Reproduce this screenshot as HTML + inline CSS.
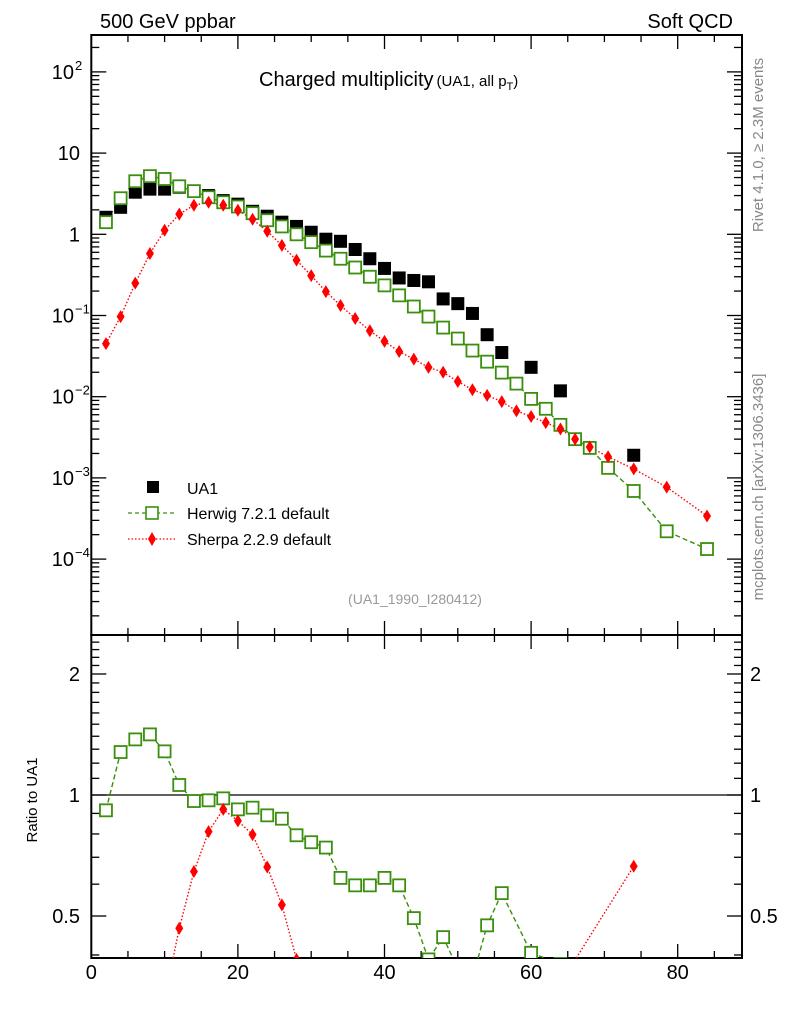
<!DOCTYPE html>
<html><head><meta charset="utf-8">
<style>
html,body{margin:0;padding:0;background:#fff;overflow:hidden;width:786px;height:1024px;}
svg{display:block;font-family:"Liberation Sans",sans-serif;overflow:hidden;}
</style></head>
<body>
<svg id="chart" width="786" height="1024" viewBox="0 0 786 1024" xmlns="http://www.w3.org/2000/svg">
<text x="100" y="28" font-size="20">500 GeV ppbar</text>
<text x="733" y="28" font-size="20" text-anchor="end">Soft QCD</text>
<text x="259" y="86" font-size="20">Charged multiplicity<tspan font-size="15" dx="3">(UA1, all p</tspan><tspan font-size="11" dy="4">T</tspan><tspan font-size="15" dy="-4">)</tspan></text>
<text x="415" y="604" font-size="14" fill="#999" text-anchor="middle">(UA1_1990_I280412)</text>
<text transform="translate(763,145) rotate(-90)" font-size="15" fill="#888" text-anchor="middle">Rivet 4.1.0, ≥ 2.3M events</text>
<text transform="translate(763,487) rotate(-90)" font-size="15" fill="#888" text-anchor="middle">mcplots.cern.ch [arXiv:1306.3436]</text>
<text transform="translate(37,800) rotate(-90)" font-size="15" text-anchor="middle">Ratio to UA1</text>
<g id="legend">
  <g>
    <rect x="147" y="481" width="12" height="12" fill="#000"/>
    <text x="187" y="494" font-size="16">UA1</text>
  </g>
  <g>
    <line x1="128" y1="513" x2="175" y2="513" stroke="#3a8f0e" stroke-width="1.3" stroke-dasharray="4,3"/>
    <rect x="146" y="507" width="12" height="12" fill="#fff" stroke="#3a8f0e" stroke-width="1.6"/>
    <text x="187" y="519" font-size="16">Herwig 7.2.1 default</text>
  </g>
  <g>
    <line x1="128" y1="539" x2="175" y2="539" stroke="#f00" stroke-width="1.3" stroke-dasharray="1.5,2"/>
    <path d="M152,532 L156,539 L152,546 L148,539 Z" fill="#f00"/>
    <text x="187" y="545" font-size="16">Sherpa 2.2.9 default</text>
  </g>
</g>
<g id="axes"></g>
<g id="marks"></g>
</svg>
<script>
const ua1X = [2,4,6,8,10,12,14,16,18,20,22,24,26,28,30,32,34,36,38,40,42,44,46,48,50,52,54,56,60,64,74];
const ua1Y = [1.62,2.15,3.3,3.6,3.6,3.8,3.4,3.0,2.6,2.35,1.92,1.67,1.41,1.25,1.06,0.87,0.82,0.65,0.50,0.38,0.29,0.27,0.26,0.16,0.14,0.106,0.058,0.035,0.023,0.0118,0.0019];
const mcX = [2,4,6,8,10,12,14,16,18,20,22,24,26,28,30,32,34,36,38,40,42,44,46,48,50,52,54,56,58,60,62,64,66,68,70.5,74,78.5,84];
const herwigY = [1.41,2.78,4.5,5.2,4.8,3.9,3.4,2.86,2.48,2.2,1.82,1.49,1.25,1.0,0.80,0.63,0.50,0.39,0.30,0.235,0.177,0.129,0.097,0.071,0.052,0.037,0.027,0.0198,0.0145,0.0094,0.0071,0.0045,0.0030,0.00234,0.00133,0.00069,0.00022,0.000133];
const sherpaY = [0.045,0.097,0.25,0.58,1.12,1.77,2.28,2.48,2.28,1.98,1.53,1.09,0.73,0.48,0.31,0.197,0.133,0.092,0.065,0.048,0.036,0.029,0.023,0.020,0.0154,0.0122,0.0104,0.0087,0.0067,0.0057,0.0048,0.0040,0.0030,0.0024,0.00182,0.00129,0.00077,0.00034];
const herwigRatio = [0.916,1.279,1.375,1.415,1.284,1.059,0.966,0.970,0.981,0.921,0.930,0.890,0.873,0.794,0.763,0.740,0.622,0.596,0.596,0.622,0.596,0.494,0.39,0.443,0.37,0.35,0.474,0.570,0.405,0.38,0.36];
const sherpaRatio = [0.028,0.045,0.076,0.16,0.31,0.466,0.645,0.811,0.921,0.862,0.797,0.662,0.533,0.39,0.29,0.23,0.16,0.14,0.13,0.126,0.124,0.11,0.09,0.125,0.11,0.115,0.18,0.25,0.25,0.34,0.665];
const xTicks = [0,20,40,60,80];
const mainTickLabels = [["10","2"],["10",""],["1",""],["10","−1"],["10","−2"],["10","−3"],["10","−4"]];
const mainTickExps = [2,1,0,-1,-2,-3,-4];
const ratioTickLabels = ["2","1","0.5"];
const ratioTickVals = [2,1,0.5];

const NS="http://www.w3.org/2000/svg";
const L=91.3,R=742,T=35,MID=635,B=958;
const sx = x => L + x*7.33;
const sy = v => 234.3 - 81.2*Math.log10(v);
const sr = v => 795 - 402*Math.log10(v);
const axes=document.getElementById('axes'), marks=document.getElementById('marks');
function mk(tag,attrs,parent){const e=document.createElementNS(NS,tag);for(const k in attrs)e.setAttribute(k,attrs[k]);parent.appendChild(e);return e;}

const defs=mk('defs',{},axes);
const c1=mk('clipPath',{id:'cmain'},defs);mk('rect',{x:L,y:T,width:R-L,height:MID-T},c1);
const c2=mk('clipPath',{id:'cratio'},defs);mk('rect',{x:L,y:MID,width:R-L,height:B-MID},c2);

const f1=mk('rect',{x:L,y:T,width:R-L,height:MID-T,fill:'none',stroke:'#000','stroke-width':2},axes);


const f2=mk('rect',{x:L,y:MID,width:R-L,height:B-MID,fill:'none',stroke:'#000','stroke-width':2},axes);



for(let x=0;x<=88;x+=5){
  const len = x%20===0?14:7;
  [[T,1],[MID,1],[MID,-1],[B,-1]].forEach(([y0,d])=>{
    mk('line',{x1:sx(x),x2:sx(x),y1:y0,y2:y0+d*len,stroke:'#000','stroke-width':1.3},axes);
  });
}
xTicks.forEach(x=>{
  const t=mk('text',{x:sx(x),y:979,'font-size':20,'text-anchor':'middle'},axes);
  t.textContent=x;
  
  
});
for(let e=-5;e<=2;e++){
  for(let m=1;m<10;m++){
    const v=m*Math.pow(10,e);const y=sy(v);
    if(y<T||y>MID)continue;
    const len=m===1?15:8;
    mk('line',{x1:L,x2:L+len,y1:y,y2:y,stroke:'#000','stroke-width':1.3},axes);
    mk('line',{x1:R,x2:R-len,y1:y,y2:y,stroke:'#000','stroke-width':1.3},axes);
  }
}
mainTickLabels.forEach((lab,i)=>{
  const y=sy(Math.pow(10,mainTickExps[i]));
  const t=mk('text',{x:lab[1]?74:80,y:y+7,'font-size':20,'text-anchor':'end'},axes);
  t.textContent=lab[0];
  
  
  if(lab[1]){const s=mk('text',{x:75,y:y-2,'font-size':13},axes);s.textContent=lab[1];}
});
const rmin=[0.4,0.5,0.6,0.7,0.8,0.9,1,1.1,1.2,1.3,1.4,1.5,1.6,1.7,1.8,1.9,2,2.1,2.2,2.3,2.4,2.5];
rmin.forEach(v=>{
  const y=sr(v);if(y<MID||y>B)return;
  const len=(v===0.5||v===1||v===2)?15:8;
  mk('line',{x1:L,x2:L+len,y1:y,y2:y,stroke:'#000','stroke-width':1.3},axes);
  mk('line',{x1:R,x2:R-len,y1:y,y2:y,stroke:'#000','stroke-width':1.3},axes);
});
ratioTickVals.forEach((v,i)=>{
  const t=mk('text',{x:80,y:sr(v)+7,'font-size':20,'text-anchor':'end'},axes);
  t.textContent=ratioTickLabels[i];
  
  
  const t2=mk('text',{x:750,y:sr(v)+7,'font-size':20},axes);
  t2.textContent=ratioTickLabels[i];
  
  
});
mk('line',{x1:L,x2:R,y1:sr(1),y2:sr(1),stroke:'#000','stroke-width':1.3},axes);

const gM=mk('g',{'clip-path':'url(#cmain)'},marks);
const gR=mk('g',{'clip-path':'url(#cratio)'},marks);
// draw line with segments clipped to [ylo,yhi]
function line(xs,ys,f,color,dash,g,name,ylo,yhi){
  let cur=[];const runs=[];
  for(let i=0;i<xs.length-1;i++){
    let x1=sx(xs[i]),y1=f(ys[i]),x2=sx(xs[i+1]),y2=f(ys[i+1]);
    if((y1<ylo&&y2<ylo)||(y1>yhi&&y2>yhi)){if(cur.length)runs.push(cur);cur=[];continue;}
    const cl=(xa,ya,xb,yb)=>{let yy=ya<ylo?ylo:(ya>yhi?yhi:ya);if(yy===ya)return[xa,ya];const t=(yy-ya)/(yb-ya);return[xa+t*(xb-xa),yy];};
    const a=cl(x1,y1,x2,y2),b=cl(x2,y2,x1,y1);
    if(!cur.length)cur.push(a);
    cur.push(b);
    if(b[1]!==y2){runs.push(cur);cur=[];}
  }
  if(cur.length)runs.push(cur);
  runs.forEach(run=>{
    const p=mk('polyline',{points:run.map(q=>q[0]+','+q[1]).join(' '),fill:'none',stroke:color,'stroke-width':1.4,'stroke-dasharray':dash},g);
    
    
  });
}
function sq(x,y,g,name){const r=mk('rect',{x:x-6,y:y-6,width:12,height:12,fill:'#fff',stroke:'#3a8f0e','stroke-width':1.8},g);}
function dia(x,y,g,name){const p=mk('path',{d:`M${x},${y-6.5} L${x+4},${y} L${x},${y+6.5} L${x-4},${y} Z`,fill:'#f00'},g);}

line(mcX,herwigY,sy,'#3a8f0e','5,3',gM,'herwig-line',T,MID);
line(mcX,sherpaY,sy,'#f00','1.5,2',gM,'sherpa-line',T,MID);
ua1X.forEach((x,i)=>{
  const r=mk('rect',{x:sx(x)-6.5,y:sy(ua1Y[i])-6.5,width:13,height:13,fill:'#000'},gM);
  
  
});
mcX.forEach((x,i)=>sq(sx(x),sy(herwigY[i]),gM,'herwig-point'));
mcX.forEach((x,i)=>dia(sx(x),sy(sherpaY[i]),gM,'sherpa-point'));

line(ua1X,herwigRatio,sr,'#3a8f0e','5,3',gR,'herwig-ratio-line',MID,B);
line(ua1X,sherpaRatio,sr,'#f00','1.5,2',gR,'sherpa-ratio-line',MID,B);
ua1X.forEach((x,i)=>{const y=sr(herwigRatio[i]);if(y<B+6&&y>MID-6)sq(sx(x),y,gR,'herwig-ratio-point');});
ua1X.forEach((x,i)=>{const y=sr(sherpaRatio[i]);if(y<B+6&&y>MID-6)dia(sx(x),y,gR,'sherpa-ratio-point');});
</script>
</body></html>
